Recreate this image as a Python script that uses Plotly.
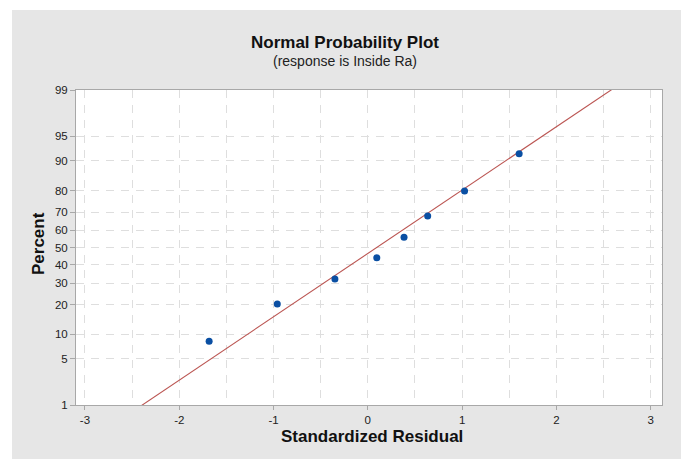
from statistics import NormalDist
import plotly.graph_objects as go

# Data
residuals = [-1.683, -0.960, -0.349, 0.095, 0.384, 0.635, 1.026, 1.605]
percents = [8.3, 20.2, 32.1, 44.0, 56.0, 67.9, 79.8, 91.7]
y_tick_labels = [1, 5, 10, 20, 30, 40, 50, 60, 70, 80, 90, 95, 99]
x_tick_labels = [-3, -2, -1, 0, 1, 2, 3]

nd = NormalDist()
z_pts = [nd.inv_cdf(p / 100) for p in percents]
z_ticks = [nd.inv_cdf(p / 100) for p in y_tick_labels]

n = len(residuals)
mu = sum(residuals) / n
sd = (sum((r - mu) ** 2 for r in residuals) / (n - 1)) ** 0.5
line_x = [-3.1, 3.12]
line_z = [(x - mu) / sd for x in line_x]

L, R, T, B = 76, 19, 90, 54
W, H = 681, 459
pw, ph = W - L - R, H - T - B

def px(xp):
    return (xp - L) / pw

def py(yp):
    return (H - B - yp) / ph

fig = go.Figure()
fig.add_trace(go.Scatter(x=line_x, y=line_z, mode="lines",
                         line=dict(color="#bb5552", width=1.1),
                         hoverinfo="skip", showlegend=False))
fig.add_trace(go.Scatter(x=residuals, y=z_pts, mode="markers",
                         marker=dict(color="#0a4fa3", size=7),
                         showlegend=False, cliponaxis=False))

grid = "#dedede"
dash = "8px,7px"
fig.update_layout(
    width=W, height=H,
    margin=dict(l=L, r=R, t=T, b=B),
    paper_bgcolor="#e6e6e6",
    plot_bgcolor="white",
    font=dict(family="Liberation Sans, Arial, sans-serif", size=11, color="#222222"),
    shapes=[
        dict(type="rect", xref="paper", yref="paper",
             x0=px(-5), x1=px(12), y0=py(H + 5), y1=py(-5),
             fillcolor="white", line=dict(width=0), layer="below"),
        dict(type="rect", xref="paper", yref="paper",
             x0=px(-5), x1=px(W + 5), y0=py(10), y1=py(-5),
             fillcolor="white", line=dict(width=0), layer="below"),
    ],
    xaxis=dict(range=[-3.095, 3.12], tickvals=x_tick_labels,
               ticktext=[str(v) for v in x_tick_labels],
               showgrid=True, gridcolor=grid, griddash=dash, gridwidth=1,
               minor=dict(dtick=0.5, tick0=0, showgrid=True, gridcolor=grid,
                          griddash=dash, gridwidth=1),
               showline=True, linecolor="#a8a8a8", linewidth=1, mirror=True,
               ticks="outside", ticklen=4, tickcolor="#a8a8a8",
               zeroline=False, fixedrange=True,
               tickfont=dict(size=11.5, color="#222222")),
    yaxis=dict(range=[z_ticks[0], z_ticks[-1]], tickvals=z_ticks,
               ticktext=[str(v) for v in y_tick_labels],
               showgrid=True, gridcolor=grid, griddash=dash, gridwidth=1,
               showline=True, linecolor="#a8a8a8", linewidth=1, mirror=True,
               ticks="outside", ticklen=5, tickcolor="#a8a8a8",
               zeroline=False, fixedrange=True,
               tickfont=dict(size=11.5, color="#222222")),
    annotations=[
        dict(text="<b>Normal Probability Plot</b>", xref="paper", yref="paper",
             x=px(345), y=py(42), xanchor="center", yanchor="middle",
             showarrow=False, font=dict(size=17, color="#111111")),
        dict(text="(response is Inside Ra)", xref="paper", yref="paper",
             x=px(345), y=py(61), xanchor="center", yanchor="middle",
             showarrow=False, font=dict(size=14, color="#222222")),
        dict(text="<b>Standardized Residual</b>", xref="paper", yref="paper",
             x=px(372), y=py(436), xanchor="center", yanchor="middle",
             showarrow=False, font=dict(size=17, color="#111111")),
        dict(text="<b>Percent</b>", xref="paper", yref="paper",
             x=px(38), y=py(244), xanchor="center", yanchor="middle",
             showarrow=False, textangle=-90,
             font=dict(size=17, color="#111111")),
    ],
)
fig.write_html("out.html")
